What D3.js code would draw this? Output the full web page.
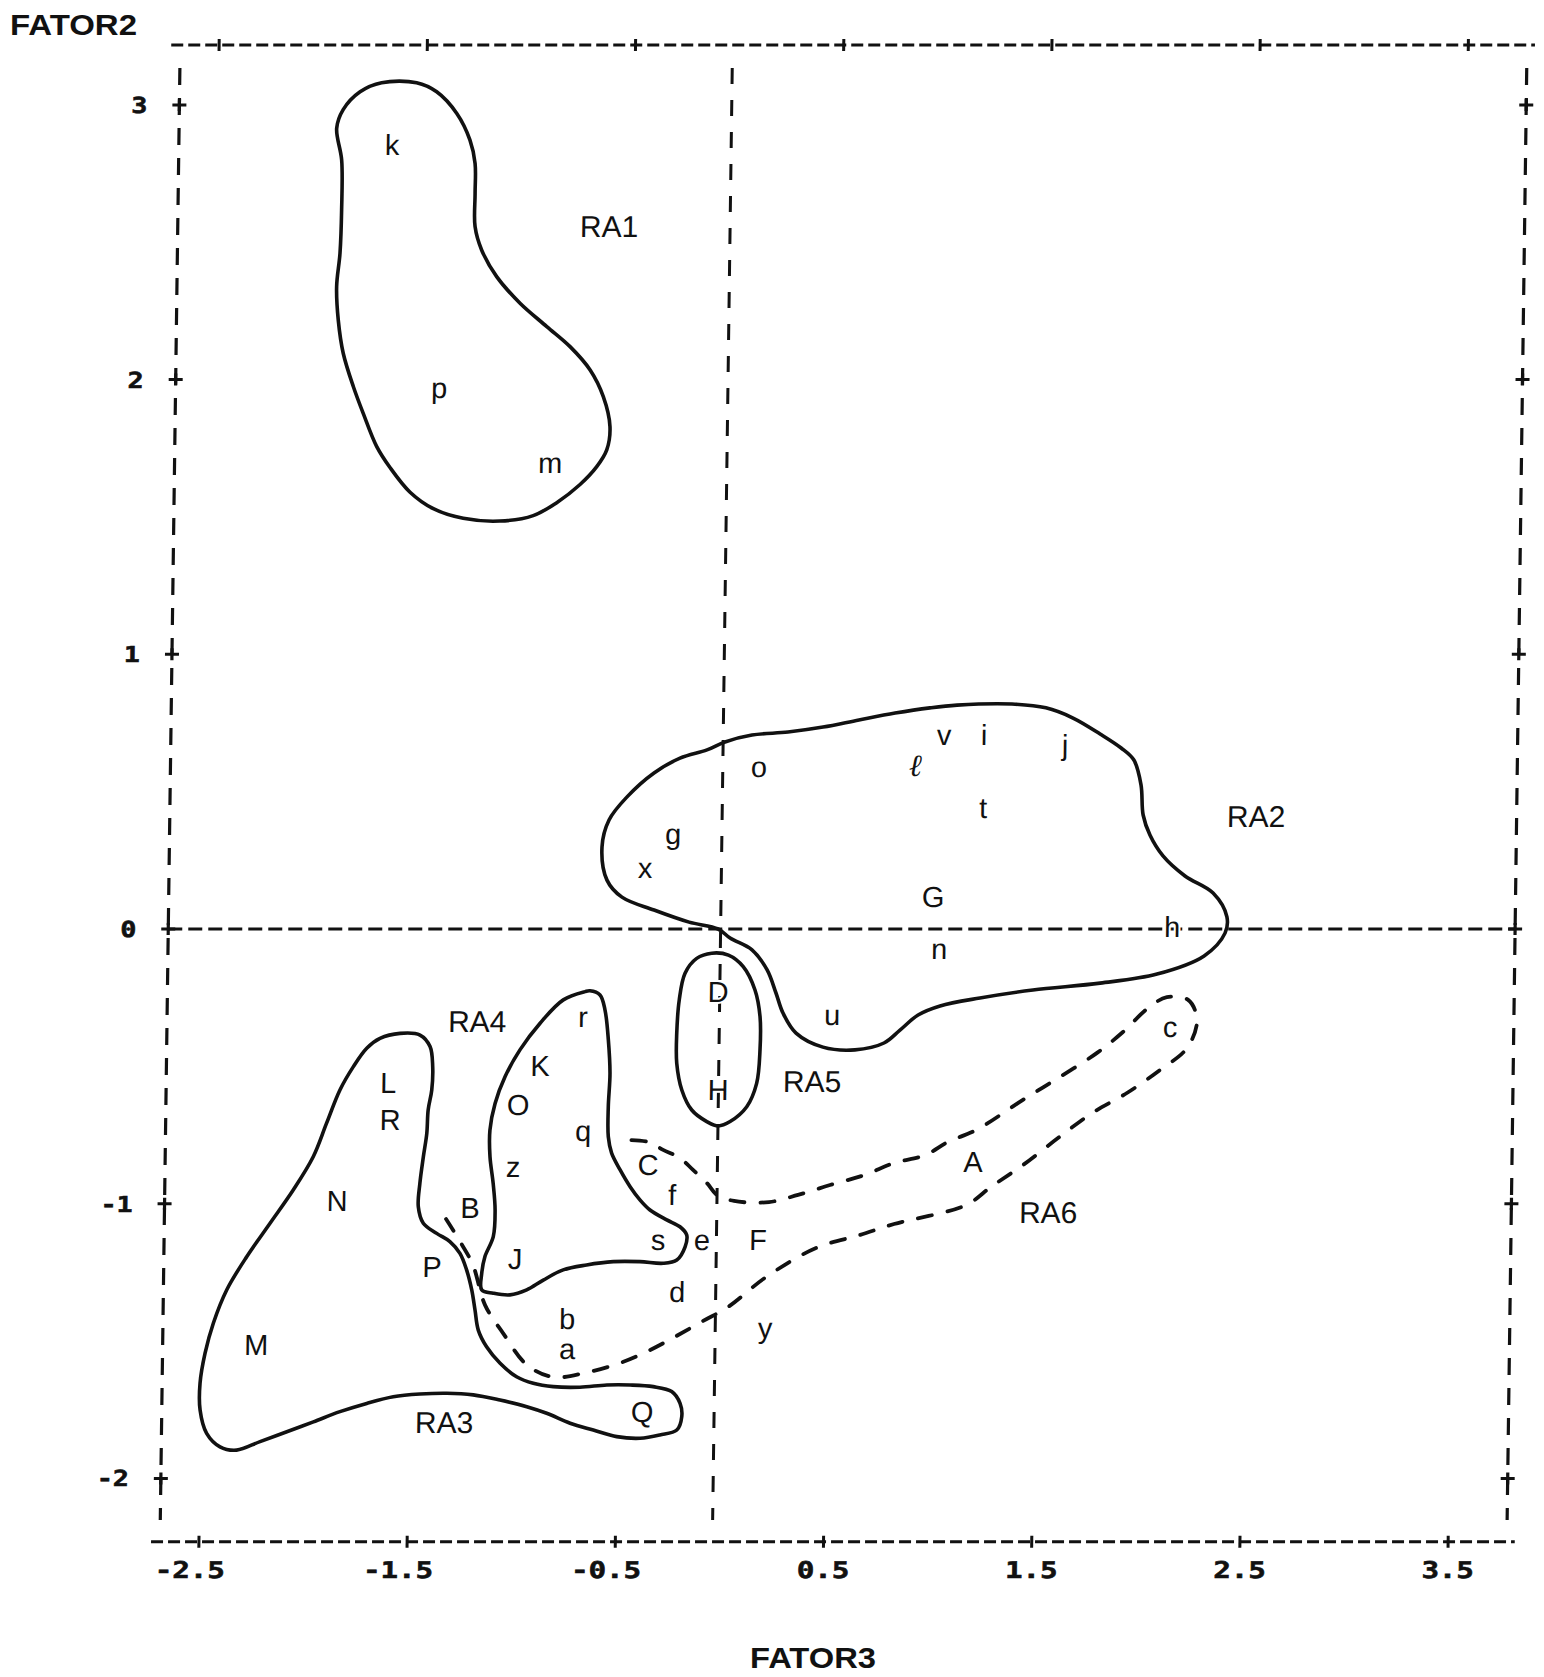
<!DOCTYPE html>
<html><head><meta charset="utf-8">
<script src="https://cdn.jsdelivr.net/npm/d3@7"></script>
<style>html,body{margin:0;padding:0;background:#fff}</style>
</head><body>
<svg id="chart" width="1544" height="1677"></svg>
<script>
// ---------- data ----------
const xTicks = [-2.5, -1.5, -0.5, 0.5, 1.5, 2.5, 3.5];
const yTicks = [3, 2, 1, 0, -1, -2];
const xTickLabels = ["-2.5", "-1.5", "-0.5", "0.5", "1.5", "2.5", "3.5"];
const yTickLabels = ["3", "2", "1", "0", "-1", "-2"];
const xTitle = "FATOR3";
const yTitle = "FATOR2";

// plot frame (data units) and reference lines
const frameX = [-2.687, 3.782];
const frameY = [-2.231, 3.218];
const hBorderX = [-2.73, 3.82];
const vBorderY = [-2.151, 3.134];
const refLineX = -0.034;   // vertical "zero" column as printed
const refLineY = 0;

// observations: [label, FATOR3, FATOR2] (label baseline position)
const pointLabels = [
  ["k",-1.663,2.818],["p",-1.421,1.933],["m",-0.883,1.660],
  ["v",1.027,0.670],["i",1.219,0.670],["j",1.609,0.633],["t",1.219,0.404],
  ["o",0.140,0.553],["g",-0.268,0.309],["x",-0.401,0.186],["G",0.985,0.080],
  ["h",2.135,-0.029],["n",1.017,-0.109],["u",0.507,-0.349],
  ["D",-0.042,-0.266],["H",-0.036,-0.622],
  ["r",-0.689,-0.357],["K",-0.892,-0.535],["O",-0.995,-0.677],["q",-0.681,-0.772],
  ["z",-1.015,-0.903],["B",-1.219,-1.052],["J",-0.999,-1.238],["s",-0.314,-1.169],
  ["C",-0.367,-0.896],["f",-0.250,-1.005],["e",-0.103,-1.169],["F",0.166,-1.169],
  ["d",-0.219,-1.358],["b",-0.746,-1.455],["a",-0.744,-1.567],["y",0.206,-1.489],
  ["A",1.194,-0.885],["c",2.132,-0.393],
  ["L",-1.621,-0.597],["R",-1.609,-0.732],["N",-1.858,-1.027],["M",-2.238,-1.551],
  ["P",-1.398,-1.267],["Q",-0.379,-1.795]
];
const scriptLabels = [["ℓ",0.894,0.557]];

const regionLabels = [
  ["RA1",-0.615,2.519],["RA2",2.531,0.371],["RA3",-1.330,-1.835],
  ["RA4",-1.197,-0.375],["RA5",0.415,-0.593],["RA6",1.558,-1.070]
];

// region outlines (closed, solid)
const ra1Outline = [[-1.930,2.915],[-1.900,2.983],[-1.820,3.048],[-1.717,3.081],[-1.549,3.081],[-1.452,3.048],[-1.354,2.969],[-1.289,2.872],[-1.263,2.787],[-1.261,2.678],[-1.259,2.557],[-1.226,2.472],[-1.152,2.375],[-1.038,2.278],[-0.908,2.193],[-0.795,2.120],[-0.697,2.035],[-0.632,1.938],[-0.598,1.829],[-0.612,1.744],[-0.659,1.683],[-0.738,1.618],[-0.849,1.552],[-0.961,1.505],[-1.121,1.485],[-1.297,1.495],[-1.441,1.530],[-1.554,1.590],[-1.652,1.680],[-1.717,1.756],[-1.784,1.877],[-1.833,1.974],[-1.884,2.096],[-1.910,2.217],[-1.920,2.338],[-1.906,2.460],[-1.901,2.617],[-1.904,2.799]];
const ra2Outline = [[-0.609,0.299],[-0.577,0.397],[-0.492,0.481],[-0.364,0.568],[-0.240,0.622],[-0.111,0.652],[-0.025,0.681],[0.104,0.706],[0.277,0.717],[0.445,0.735],[0.617,0.761],[0.790,0.786],[0.957,0.805],[1.087,0.815],[1.351,0.819],[1.514,0.805],[1.645,0.768],[1.776,0.710],[1.878,0.659],[1.940,0.615],[1.976,0.524],[1.988,0.415],[2.022,0.342],[2.086,0.266],[2.193,0.193],[2.329,0.131],[2.397,0.044],[2.389,-0.015],[2.290,-0.098],[2.065,-0.164],[1.792,-0.197],[1.470,-0.222],[1.216,-0.251],[1.025,-0.280],[0.920,-0.313],[0.834,-0.368],[0.758,-0.415],[0.619,-0.440],[0.465,-0.430],[0.335,-0.379],[0.271,-0.306],[0.236,-0.233],[0.192,-0.149],[0.118,-0.076],[0.012,-0.033],[-0.046,0.000],[-0.186,0.025],[-0.355,0.069],[-0.510,0.116],[-0.583,0.178]];
const ra3Outline = [[-1.726,-0.434],[-1.663,-0.398],[-1.567,-0.380],[-1.471,-0.386],[-1.422,-0.428],[-1.408,-0.501],[-1.411,-0.586],[-1.427,-0.659],[-1.432,-0.744],[-1.447,-0.829],[-1.462,-0.926],[-1.468,-1.011],[-1.443,-1.071],[-1.378,-1.108],[-1.314,-1.138],[-1.265,-1.181],[-1.232,-1.241],[-1.206,-1.314],[-1.189,-1.387],[-1.172,-1.460],[-1.131,-1.521],[-1.065,-1.581],[-0.985,-1.630],[-0.904,-1.654],[-0.808,-1.666],[-0.680,-1.668],[-0.551,-1.660],[-0.439,-1.660],[-0.328,-1.666],[-0.239,-1.684],[-0.198,-1.727],[-0.189,-1.775],[-0.212,-1.824],[-0.293,-1.842],[-0.388,-1.854],[-0.500,-1.848],[-0.613,-1.824],[-0.725,-1.799],[-0.838,-1.763],[-0.934,-1.739],[-1.063,-1.715],[-1.192,-1.696],[-1.319,-1.690],[-1.448,-1.693],[-1.576,-1.703],[-1.703,-1.727],[-1.831,-1.757],[-1.958,-1.794],[-2.085,-1.830],[-2.213,-1.866],[-2.325,-1.897],[-2.405,-1.885],[-2.470,-1.836],[-2.503,-1.751],[-2.505,-1.654],[-2.483,-1.545],[-2.445,-1.435],[-2.383,-1.314],[-2.289,-1.193],[-2.179,-1.071],[-2.070,-0.950],[-1.976,-0.829],[-1.914,-0.707],[-1.852,-0.586],[-1.789,-0.501]];
const ra4Outline = [[-0.681,-0.228],[-0.785,-0.258],[-0.895,-0.343],[-0.990,-0.440],[-1.060,-0.538],[-1.106,-0.635],[-1.129,-0.732],[-1.127,-0.829],[-1.110,-0.926],[-1.099,-1.023],[-1.106,-1.120],[-1.145,-1.193],[-1.159,-1.253],[-1.158,-1.314],[-1.102,-1.326],[-1.022,-1.332],[-0.942,-1.314],[-0.863,-1.278],[-0.768,-1.241],[-0.656,-1.223],[-0.528,-1.211],[-0.400,-1.211],[-0.288,-1.217],[-0.223,-1.205],[-0.184,-1.157],[-0.177,-1.114],[-0.210,-1.084],[-0.274,-1.059],[-0.355,-1.023],[-0.403,-0.987],[-0.452,-0.938],[-0.501,-0.877],[-0.543,-0.816],[-0.560,-0.756],[-0.562,-0.647],[-0.556,-0.525],[-0.566,-0.404],[-0.584,-0.295],[-0.609,-0.240],[-0.658,-0.225]];
const ra5Outline = [[-0.075,-0.088],[0.005,-0.095],[0.077,-0.137],[0.135,-0.222],[0.161,-0.319],[0.163,-0.440],[0.149,-0.562],[0.103,-0.647],[0.024,-0.701],[-0.032,-0.717],[-0.088,-0.701],[-0.161,-0.659],[-0.210,-0.586],[-0.236,-0.489],[-0.238,-0.380],[-0.228,-0.258],[-0.202,-0.161],[-0.147,-0.107]];
// RA6 (dashed, drawn as an open path that meets RA4)
const ra6Path = [[-1.334,-1.056],[-1.261,-1.143],[-1.202,-1.223],[-1.141,-1.369],[-1.053,-1.471],[-0.936,-1.587],[-0.810,-1.631],[-0.657,-1.616],[-0.489,-1.580],[-0.346,-1.533],[-0.093,-1.427],[0.026,-1.376],[0.207,-1.267],[0.445,-1.161],[0.655,-1.114],[0.818,-1.074],[1.162,-1.005],[1.281,-0.939],[1.434,-0.859],[1.600,-0.761],[1.762,-0.670],[1.928,-0.597],[2.086,-0.513],[2.214,-0.433],[2.260,-0.331],[2.216,-0.258],[2.114,-0.248],[2.024,-0.288],[1.905,-0.375],[1.782,-0.451],[1.558,-0.561],[1.429,-0.622],[1.206,-0.732],[1.072,-0.775],[0.963,-0.823],[0.814,-0.852],[0.671,-0.896],[0.508,-0.932],[0.355,-0.968],[0.216,-0.994],[0.048,-0.990],[-0.034,-0.968],[-0.083,-0.925],[-0.151,-0.877],[-0.214,-0.834],[-0.296,-0.804],[-0.369,-0.775],[-0.470,-0.768]];

// ---------- drawing ----------
const svg = d3.select("#chart");
svg.append("rect").attr("width",1544).attr("height",1677).attr("fill","#fff");

const x = d3.scaleLinear().domain([-2.5, 3.5]).range([207.2, 1456.4]);
const y = d3.scaleLinear().domain([-2, 3]).range([1478.4, 104.9]);

// scanned page is slightly sheared
const SHEAR = 0.0135;
const g = svg.append("g")
  .attr("transform", `translate(${SHEAR*y(0)},0) skewX(${-Math.atan(SHEAR)*180/Math.PI})`);

const INK = "#111";
const tickFont = "'DejaVu Sans Mono', 'Liberation Mono', monospace";
const labelFont = "'Liberation Sans', Arial, Helvetica, sans-serif";

function seg(x1,y1,x2,y2,dash,w){
  g.append("line").attr("x1",x1).attr("y1",y1).attr("x2",x2).attr("y2",y2)
    .attr("stroke",INK).attr("stroke-width",w||3).attr("stroke-dasharray",dash||null)
    .attr("stroke-linecap","butt");
}
const fx0 = x(frameX[0]), fx1 = x(frameX[1]);
const fy0 = y(frameY[1]), fy1 = y(frameY[0]);
// borders
seg(x(hBorderX[0]), fy0, x(hBorderX[1]), fy0, "12,5", 3);
seg(x(hBorderX[0]), fy1, x(hBorderX[1]), fy1, "12,5", 3);
seg(fx0, y(vBorderY[1]), fx0, y(vBorderY[0]), "17,13", 3.2);
seg(fx1, y(vBorderY[1]), fx1, y(vBorderY[0]), "17,13", 3.2);
// reference lines
seg(fx0, y(refLineY), fx1, y(refLineY), "14,6", 3);
seg(x(refLineX), y(vBorderY[1]), x(refLineX), y(vBorderY[0]), "16,16", 3);

// '+' tick marks
xTicks.forEach(v => {
  seg(x(v), fy0-6, x(v), fy0+6, null, 3);
  seg(x(v), fy1-6, x(v), fy1+6, null, 3);
});
yTicks.forEach(v => {
  seg(fx0-7, y(v), fx0+7, y(v), null, 3);
  seg(fx0, y(v)-6, fx0, y(v)+6, null, 3.2);
  seg(fx1-7, y(v), fx1+7, y(v), null, 3);
  seg(fx1, y(v)-6, fx1, y(v)+6, null, 3.2);
});

// tick labels (wide dot-matrix style)
const CW = 17.5;
xTicks.forEach((v,i) => {
  const t = xTickLabels[i];
  const neg = t.startsWith("-");
  const x0 = x(v) - 1.5*CW - (neg ? CW : 0);
  g.append("text").attr("x", x0).attr("y", fy1 + 36)
    .attr("font-family", tickFont).attr("font-weight","bold").attr("font-size", 23)
    .attr("textLength", t.length*CW).attr("lengthAdjust","spacingAndGlyphs")
    .attr("fill", INK).attr("stroke", INK).attr("stroke-width", 0.6).text(t);
});
const YCW = 16;
yTicks.forEach((v,i) => {
  const t = yTickLabels[i];
  const endX = fx0 - 32;
  g.append("text").attr("x", endX - t.length*YCW).attr("y", y(v) + 8)
    .attr("font-family", tickFont).attr("font-weight","bold").attr("font-size", 22)
    .attr("textLength", t.length*YCW).attr("lengthAdjust","spacingAndGlyphs")
    .attr("fill", INK).attr("stroke", INK).attr("stroke-width", 0.6).text(t);
});

// region outlines
const closed = d3.line().x(d=>x(d[0])).y(d=>y(d[1])).curve(d3.curveCatmullRomClosed.alpha(0.5));
const open = d3.line().x(d=>x(d[0])).y(d=>y(d[1])).curve(d3.curveCatmullRom.alpha(0.5));
[ra1Outline, ra2Outline, ra3Outline, ra4Outline, ra5Outline].forEach(o => {
  g.append("path").attr("d", closed(o)).attr("fill","none")
    .attr("stroke",INK).attr("stroke-width",3.6).attr("stroke-linejoin","round");
});
g.append("path").attr("d", open(ra6Path)).attr("fill","none")
  .attr("stroke",INK).attr("stroke-width",3.8).attr("stroke-dasharray","14,16")
  .attr("stroke-linecap","round");

// observation labels
g.selectAll("text.pt").data(pointLabels).join("text").attr("class","pt")
  .attr("x", d=>x(d[1])).attr("y", d=>y(d[2]))
  .attr("text-anchor","middle").attr("font-family",labelFont).attr("font-size",29)
  .attr("fill",INK).attr("stroke","#fff").attr("stroke-width",4).attr("paint-order","stroke")
  .text(d=>d[0]);
g.selectAll("text.sc").data(scriptLabels).join("text").attr("class","sc")
  .attr("x", d=>x(d[1])).attr("y", d=>y(d[2]))
  .attr("text-anchor","middle").attr("font-family","'DejaVu Serif', serif")
  .attr("font-style","italic").attr("font-weight","bold").attr("font-size",31).attr("fill",INK)
  .text(d=>d[0]);
g.selectAll("text.rg").data(regionLabels).join("text").attr("class","rg")
  .attr("x", d=>x(d[1])).attr("y", d=>y(d[2]))
  .attr("text-anchor","middle").attr("font-family",labelFont).attr("font-size",30)
  .attr("fill",INK).text(d=>d[0]);

// axis titles
svg.append("text").attr("x",10).attr("y",35)
  .attr("font-family",labelFont).attr("font-weight","bold").attr("font-size",29)
  .attr("textLength",127).attr("lengthAdjust","spacingAndGlyphs")
  .attr("fill",INK).text(yTitle);
svg.append("text").attr("x",750).attr("y",1668)
  .attr("font-family",labelFont).attr("font-weight","bold").attr("font-size",30)
  .attr("textLength",126).attr("lengthAdjust","spacingAndGlyphs")
  .attr("fill",INK).text(xTitle);
</script>
</body></html>
